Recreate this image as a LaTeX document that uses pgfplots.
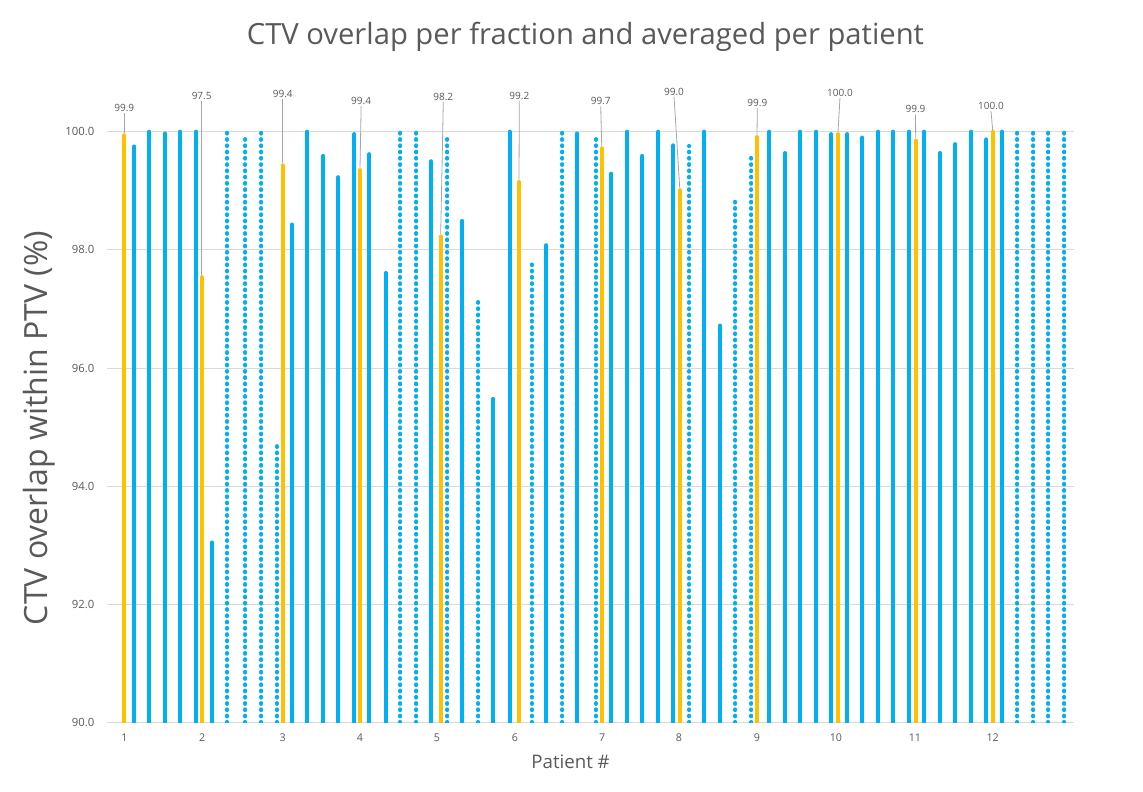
\documentclass[border=0pt]{standalone}
\usepackage{pgfplots}
\pgfplotsset{compat=1.18}
\usepackage{pgfplotstable}
\usepackage{fontspec}
\setmainfont{Open Sans}
\setsansfont{Open Sans}
\definecolor{barblue}{HTML}{00B0F0}
\definecolor{baryel}{HTML}{FFC000}
\definecolor{txtgray}{HTML}{595959}
\definecolor{gridgray}{HTML}{D9D9D9}
\definecolor{leadgray}{HTML}{A6A6A6}

% fractions, solid bars
\pgfplotstableread{
x y
1.127 99.75
1.317 100
1.519 99.97
1.709 100
1.912 100
2.111 93.05
3.128 98.43
3.318 100
3.521 99.59
3.711 99.23
3.914 99.96
4.104 99.62
4.309 97.61
4.889 99.50
5.282 98.49
5.674 95.48
5.880 100
6.348 98.08
6.738 99.97
7.169 99.29
7.372 100
7.562 99.59
7.765 100
7.955 99.77
8.347 100
8.546 96.72
9.171 100
9.373 99.64
9.563 100
9.766 100
9.956 99.96
10.159 99.96
10.349 99.90
10.551 100
10.741 100
10.944 100
11.134 100
11.337 99.64
11.527 99.79
11.730 100
11.920 99.87
12.122 100
}\solidtab

% fractions, dotted bars
\pgfplotstableread{
x y
2.301 100
2.533 99.93
2.736 100
2.934 94.75
4.496 100
4.699 100
5.094 99.93
5.484 97.21
6.161 97.81
6.549 100
6.975 99.90
8.157 99.76
8.740 98.90
8.945 99.63
12.312 100
12.515 100
12.705 100
12.908 100
}\dottedtab

% patient averages
\pgfplotstableread{
x y
1.000 99.94
1.980 97.54
3.007 99.43
3.986 99.35
5.008 98.23
6.000 99.15
7.048 99.72
8.036 99.01
9.015 99.91
10.041 99.96
11.025 99.85
12.000 100.00
}\avgtab

\begin{document}
\begin{tikzpicture}
\path[use as bounding box] (0,0) rectangle (857.25pt,594pt);
\begin{axis}[
  at={(80.25pt,51.975pt)}, anchor=south west,
  scale only axis, width=725.25pt, height=480.93pt,
  xmin=0.7808, xmax=13.0306, ymin=90, ymax=100.85,
  axis line style={draw=none}, tick style={draw=none},
  ytick={90,92,94,96,98,100},
  ymajorgrids, grid style={gridgray, line width=0.75pt},
  xtick={1.000,1.988,3.007,3.986,4.961,5.949,7.055,8.027,9.015,10.015,11.016,12.000},
  xticklabels={1,2,3,4,5,6,7,8,9,10,11,12},
  /pgf/number format/assume math mode=true,
  yticklabel style={/pgf/number format/.cd, fixed, fixed zerofill, precision=1, /tikz/.cd,
    font=\fontsize{8.5}{10}\selectfont, text=txtgray, xshift=-6pt},
  xticklabel style={font=\fontsize{8}{9}\selectfont, text=txtgray, yshift=-5pt},
  title={CTV overlap per fraction and averaged per patient},
  every axis title/.style={at={(axis description cs:0.4948,1.0569)}, anchor=base,
    font=\fontsize{21.9}{26}\selectfont, text=txtgray},
  xlabel={Patient \#},
  every axis x label/.style={at={(axis description cs:0.4794,-0.0722)}, anchor=base,
    font=\fontsize{14}{17}\selectfont, text=txtgray},
  ylabel={CTV overlap within PTV (\%)},
  every axis y label/.style={at={(axis description cs:-0.0620,0.4596)}, rotate=90, anchor=base,
    font=\fontsize{24}{28}\selectfont, text=txtgray},
]
\addplot[ycomb, draw=barblue, line width=3pt, line cap=round] table {\solidtab};
\addplot[ycomb, draw=barblue, line width=3pt, line cap=round, dash pattern=on 0.6pt off 4.1pt] table {\dottedtab};
\addplot[ycomb, draw=baryel, line width=3pt, line cap=round] table {\avgtab};

% data labels with leader lines
\begin{scope}[every node/.style={font=\fontsize{7.5}{9}\selectfont, text=txtgray, inner sep=0pt}]
\draw[leadgray, line width=0.6pt] (axis cs:1.000,100.32) -- (axis cs:1.000,99.98);
\node at (axis cs:1.000,100.41) {99.9};
\draw[leadgray, line width=0.6pt] (axis cs:1.980,100.52) -- (axis cs:1.980,97.58);
\node at (axis cs:1.980,100.61) {97.5};
\draw[leadgray, line width=0.6pt] (axis cs:3.007,100.55) -- (axis cs:3.007,99.47);
\node at (axis cs:3.007,100.64) {99.4};
\draw[leadgray, line width=0.6pt] (axis cs:4.000,100.43) -- (axis cs:3.986,99.39);
\node at (axis cs:4.000,100.52) {99.4};
\draw[leadgray, line width=0.6pt] (axis cs:5.041,100.50) -- (axis cs:5.008,98.27);
\node at (axis cs:5.041,100.59) {98.2};
\draw[leadgray, line width=0.6pt] (axis cs:6.004,100.52) -- (axis cs:6.000,99.19);
\node at (axis cs:6.004,100.61) {99.2};
\draw[leadgray, line width=0.6pt] (axis cs:7.035,100.43) -- (axis cs:7.048,99.76);
\node at (axis cs:7.035,100.52) {99.7};
\draw[leadgray, line width=0.6pt] (axis cs:7.964,100.59) -- (axis cs:8.036,99.05);
\node at (axis cs:7.964,100.68) {99.0};
\draw[leadgray, line width=0.6pt] (axis cs:9.019,100.40) -- (axis cs:9.015,99.95);
\node at (axis cs:9.019,100.49) {99.9};
\draw[leadgray, line width=0.6pt] (axis cs:10.066,100.57) -- (axis cs:10.041,100.00);
\node at (axis cs:10.066,100.66) {100.0};
\draw[leadgray, line width=0.6pt] (axis cs:11.023,100.29) -- (axis cs:11.025,99.89);
\node at (axis cs:11.023,100.38) {99.9};
\draw[leadgray, line width=0.6pt] (axis cs:11.979,100.35) -- (axis cs:12.000,100.03);
\node at (axis cs:11.979,100.44) {100.0};
\end{scope}
\end{axis}
\end{tikzpicture}
\end{document}
